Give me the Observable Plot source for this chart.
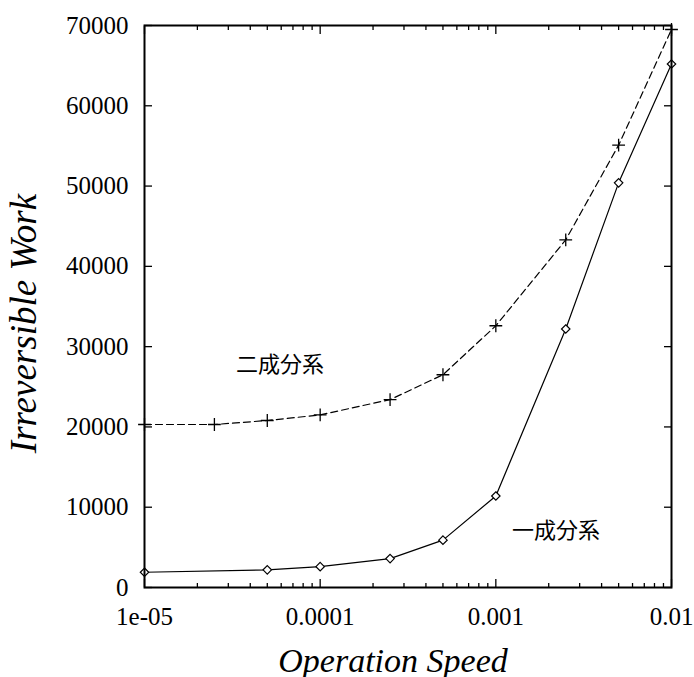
<!DOCTYPE html>
<html><head><meta charset="utf-8">
<script src="https://cdn.jsdelivr.net/npm/d3@7"></script>
<script src="https://cdn.jsdelivr.net/npm/@observablehq/plot@0.6"></script>
<style>body{margin:0;background:#fff} svg{display:block}</style>
</head><body><div id="chart"></div>
<script>
// 二成分系 (dashed, plus markers)
const twoSpeeds = [1e-5, 2.5e-5, 5e-5, 1e-4, 2.5e-4, 5e-4, 1e-3, 2.5e-3, 5e-3, 1e-2];
const twoWork   = [20300, 20300, 20800, 21500, 23400, 26500, 32600, 43300, 55100, 69500];
// 一成分系 (solid, diamond markers)
const oneSpeeds = [1e-5, 5e-5, 1e-4, 2.5e-4, 5e-4, 1e-3, 2.5e-3, 5e-3, 1e-2];
const oneWork   = [1900, 2200, 2600, 3600, 5900, 11400, 32200, 50400, 65200];

const xMajor = [1e-5, 1e-4, 1e-3, 1e-2];
const xLabels = ["1e-05", "0.0001", "0.001", "0.01"];
const minorMultipliers = [2, 3, 4, 5, 6, 7, 8, 9];
const minorDecades = [1e-5, 1e-4, 1e-3];
const yTicks = [0, 10000, 20000, 30000, 40000, 50000, 60000, 70000];
const yLabels = ["0", "10000", "20000", "30000", "40000", "50000", "60000", "70000"];

const annoText = ["二成分系", "一成分系"];
const annoX = [5.9e-5, 2.2e-3];
const annoY = [27700, 7000];

const two = twoSpeeds.map((s, i) => ({s, w: twoWork[i]}));
const one = oneSpeeds.map((s, i) => ({s, w: oneWork[i]}));
const xMinor = minorDecades.flatMap(d => minorMultipliers.map(m => +(d * m).toPrecision(3)));
const xLabelMap = new Map(xMajor.map((v, i) => [v, xLabels[i]]));
const yLabelMap = new Map(yTicks.map((v, i) => [v, yLabels[i]]));
const annos = annoText.map((t, i) => ({t, x: annoX[i], y: annoY[i]}));

const serif = "'Liberation Serif', 'Times New Roman', serif";
const tickStyle = {stroke: "black", strokeWidth: 1.3};

const chart = Plot.plot({
  width: 694,
  height: 677,
  marginLeft: 144,
  marginRight: 23,
  marginTop: 25,
  marginBottom: 90,
  style: {background: "white", color: "black"},
  x: {type: "log", domain: [1e-5, 1e-2]},
  y: {domain: [0, 70000]},
  marks: [
    // inward ticks
    Plot.axisX(xMajor, {anchor: "bottom", tickSize: 8, dy: -8, tickFormat: () => "", label: null, ...tickStyle}),
    Plot.axisX(xMajor, {anchor: "top", tickSize: 8, dy: 8, tickFormat: () => "", label: null, ...tickStyle}),
    Plot.axisX(xMinor, {anchor: "bottom", tickSize: 4, dy: -4, tickFormat: () => "", label: null, ...tickStyle}),
    Plot.axisX(xMinor, {anchor: "top", tickSize: 4, dy: 4, tickFormat: () => "", label: null, ...tickStyle}),
    Plot.axisY(yTicks, {anchor: "left", tickSize: 8, dx: 8, tickFormat: () => "", label: null, ...tickStyle}),
    Plot.axisY(yTicks, {anchor: "right", tickSize: 8, dx: -8, tickFormat: () => "", label: null, ...tickStyle}),
    // tick labels
    Plot.axisX(xMajor, {anchor: "bottom", tickSize: 0, tickPadding: 20, tickFormat: d => xLabelMap.get(d), label: null,
      fontSize: 25, fontFamily: serif}),
    Plot.axisY(yTicks, {anchor: "left", tickSize: 0, tickPadding: 16, tickFormat: d => yLabelMap.get(d), label: null,
      fontSize: 25, fontFamily: serif}),
    // series
    Plot.line(two, {x: "s", y: "w", stroke: "black", strokeWidth: 1.2, strokeDasharray: "7,4"}),
    Plot.dot(two, {x: "s", y: "w", symbol: "plus", r: 4.2, stroke: "black", strokeWidth: 1.3}),
    Plot.line(one, {x: "s", y: "w", stroke: "black", strokeWidth: 1.2}),
    Plot.dot(one, {x: "s", y: "w", symbol: "diamond2", r: 3.8, fill: "white", stroke: "black", strokeWidth: 1.2}),
    Plot.frame({stroke: "black", strokeWidth: 2}),
    // annotations
    Plot.text(annos, {x: "x", y: "y", text: "t", fontSize: 22, fontFamily: "'Noto Sans CJK JP', sans-serif", fill: "black"}),
    // axis titles
    Plot.text(["Irreversible Work"], {frameAnchor: "left", textAnchor: "middle", rotate: -90, dx: -109, dy: 17, lineAnchor: "bottom",
      fontSize: 37, fontStyle: "italic", fontFamily: serif, fill: "black"}),
    Plot.text(["Operation Speed"], {frameAnchor: "bottom", textAnchor: "middle", dx: -15, dy: 84, lineAnchor: "bottom",
      fontSize: 34, fontStyle: "italic", fontFamily: serif, fill: "black"})
  ]
});
document.getElementById("chart").appendChild(chart);
</script>
</body></html>
